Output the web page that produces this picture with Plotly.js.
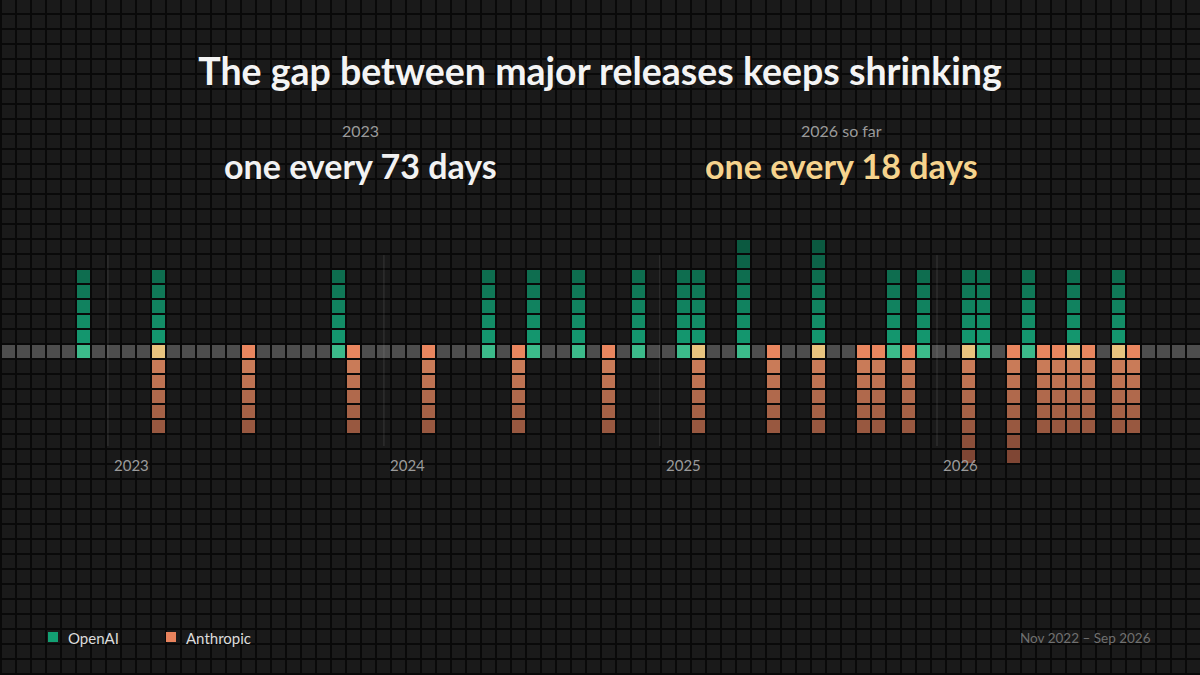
<!DOCTYPE html>
<html>
<head>
<meta charset="utf-8">
<script src="https://cdn.plot.ly/plotly-3.0.1.min.js"></script>
<style>
  html, body { margin: 0; padding: 0; background: #090909; }
  #chart { width: 1200px; height: 675px; }
</style>
</head>
<body>
<div id="chart"></div>
<script>
  // one column of the grid is one ~20 day bucket, counted from the left edge
  const openaiBuckets = [5, 10, 22, 32, 35, 38, 42, 45, 46, 49, 54, 59, 61, 64, 65, 68, 71, 74];
  const openaiHeights = [5, 5, 5, 5, 5, 5, 5, 5, 5, 7, 7, 5, 5, 5, 5, 5, 5, 5];
  const anthropicBuckets = [10, 16, 23, 28, 34, 40, 46, 51, 54, 57, 58, 60, 64, 67, 69, 70, 71, 72, 74, 75];
  const anthropicDepths = [5, 5, 5, 5, 5, 5, 5, 5, 5, 5, 5, 5, 7, 7, 5, 5, 5, 5, 5, 5];

  const yearLabels = ['2023', '2024', '2025', '2026'];
  const yearStarts = [6.63, 25.03, 43.43, 61.9];

  const headlineYears = ['2023', '2026 so far'];
  const headlineGaps = [73, 18];
  const rangeLabel = 'Nov 2022 \u2013 Sep 2026';

  const N_COLS = 80;
  const FONT = 'Lato, "Noto Sans", sans-serif';

  function hex(c) {
    return [1, 3, 5].map(i => parseInt(c.slice(i, i + 2), 16));
  }
  function mix(a, b, t) {
    const A = hex(a), B = hex(b);
    return 'rgb(' + A.map((v, i) => Math.round(v + (B[i] - v) * t)).join(',') + ')';
  }
  const greenAt = k => mix('#14966e', '#0b5940', (k - 1) / 6);
  const orangeAt = k => mix('#c97b58', '#7f4634', (k - 1) / 6);

  // background grid
  const gx = [], gy = [], gz = [];
  for (let c = -1; c <= N_COLS; c++) gx.push(c);
  for (let r = -23; r <= 24; r++) {
    gy.push(r);
    gz.push(gx.map(() => 0));
  }
  const bgTrace = {
    type: 'heatmap', x: gx, y: gy, z: gz,
    colorscale: [[0, '#1a1a1a'], [1, '#1a1a1a']],
    showscale: false, xgap: 2, ygap: 2, hoverinfo: 'skip'
  };

  // baseline row
  const cols = [];
  for (let c = 0; c < N_COLS; c++) cols.push(c);
  const baseline = {
    type: 'scatter', mode: 'markers', x: cols, y: cols.map(() => 0),
    marker: { symbol: 'square', size: 13, color: '#4d4d4d', line: { width: 0 } },
    hoverinfo: 'skip'
  };

  // stacks above (OpenAI) and below (Anthropic)
  const ox = [], oy = [], oc = [];
  openaiBuckets.forEach((b, i) => {
    for (let k = 1; k <= openaiHeights[i]; k++) { ox.push(b); oy.push(k); oc.push(greenAt(k)); }
  });
  const ax = [], ay = [], ac = [];
  anthropicBuckets.forEach((b, i) => {
    for (let k = 1; k <= anthropicDepths[i]; k++) { ax.push(b); ay.push(-k); ac.push(orangeAt(k)); }
  });

  const centerX = [], centerC = [];
  new Set([...openaiBuckets, ...anthropicBuckets]).forEach(b => {
    const o = openaiBuckets.includes(b), a = anthropicBuckets.includes(b);
    centerX.push(b);
    centerC.push(o && a ? '#e8c47f' : (o ? '#3cba8a' : '#e9865f'));
  });

  const sq = (x, y, c) => ({
    type: 'scatter', mode: 'markers', x, y,
    marker: { symbol: 'square', size: 13, color: c, line: { width: 0 } },
    hoverinfo: 'skip'
  });

  const traces = [bgTrace, baseline, sq(ox, oy, oc), sq(ax, ay, ac), sq(centerX, centerX.map(() => 0), centerC)];

  const px = p => p / 1200;
  const py = p => 1 - p / 675;

  const shapes = yearStarts.map(x => ({
    type: 'line', xref: 'x', yref: 'y', x0: x, x1: x, y0: 6.43, y1: -6.3,
    line: { color: 'rgba(255,255,255,0.13)', width: 1 }, layer: 'above'
  }));
  shapes.push(
    { type: 'rect', xref: 'paper', yref: 'paper', x0: px(48), x1: px(58), y0: py(642), y1: py(632),
      fillcolor: '#13a073', line: { width: 0 } },
    { type: 'rect', xref: 'paper', yref: 'paper', x0: px(166), x1: px(176), y0: py(642), y1: py(632),
      fillcolor: '#e8835d', line: { width: 0 } }
  );

  const annotations = yearLabels.map((t, i) => ({
    x: yearStarts[i], y: -7.57, xref: 'x', yref: 'y', xanchor: 'left', yanchor: 'middle', xshift: 4,
    text: t, showarrow: false, font: { family: FONT, size: 15, color: '#9b9b9b' }
  }));
  const headX = [360, 841];
  const headColor = ['#f2f2f2', '#f6d38d'];
  headlineYears.forEach((t, i) => {
    annotations.push({
      x: px(headX[i]), y: py(130), xref: 'paper', yref: 'paper', xanchor: 'center', yanchor: 'middle',
      text: t, showarrow: false, font: { family: FONT, size: 16, color: '#9a9a9a' }
    });
    annotations.push({
      x: px(headX[i]), y: py(166), xref: 'paper', yref: 'paper', xanchor: 'center', yanchor: 'middle',
      text: 'one every ' + headlineGaps[i] + ' days', showarrow: false,
      font: { family: FONT, size: 34, color: headColor[i], weight: 700 }
    });
  });
  annotations.push(
    { x: px(66), y: py(638), xref: 'paper', yref: 'paper', xanchor: 'left', yanchor: 'middle',
      text: 'OpenAI', showarrow: false, font: { family: FONT, size: 15, color: '#dcdcdc' } },
    { x: px(184), y: py(638), xref: 'paper', yref: 'paper', xanchor: 'left', yanchor: 'middle',
      text: 'Anthropic', showarrow: false, font: { family: FONT, size: 15, color: '#dcdcdc' } },
    { x: px(1153), y: py(638), xref: 'paper', yref: 'paper', xanchor: 'right', yanchor: 'middle',
      text: rangeLabel, showarrow: false, font: { family: FONT, size: 13.5, color: '#707070' } }
  );

  const layout = {
    width: 1200, height: 675, autosize: false,
    margin: { l: 0, r: 0, t: 0, b: 0, pad: 0 },
    paper_bgcolor: '#090909', plot_bgcolor: '#090909',
    title: {
      text: 'The gap between major releases keeps shrinking',
      x: 0.5, xanchor: 'center', y: py(72), yanchor: 'middle', yref: 'paper',
      font: { family: FONT, size: 37.5, color: '#f4f4f4', weight: 700 }
    },
    xaxis: { range: [-8.5 / 15, (1200 - 8.5) / 15], visible: false, fixedrange: true },
    yaxis: { range: [(351.5 - 675) / 15, 351.5 / 15], visible: false, fixedrange: true },
    showlegend: false,
    shapes, annotations
  };

  Plotly.newPlot('chart', traces, layout, { displayModeBar: false, staticPlot: true });
</script>
</body>
</html>
